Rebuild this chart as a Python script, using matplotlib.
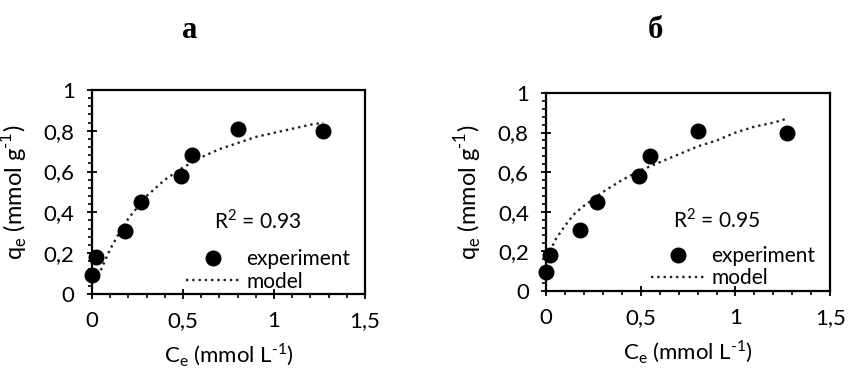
import numpy as np
import matplotlib.pyplot as plt
from matplotlib.lines import Line2D
from matplotlib.ticker import MultipleLocator, FixedFormatter, FixedLocator

plt.rcParams['font.family'] = ['Lato', 'DejaVu Sans']
plt.rcParams['mathtext.fontset'] = 'custom'
plt.rcParams['mathtext.rm'] = 'Lato'

# experimental points (same in both panels)
ce_exp = [0.0, 0.02, 0.18, 0.27, 0.49, 0.55, 0.80, 1.27]
qe_exp = [0.095, 0.18, 0.31, 0.45, 0.58, 0.68, 0.81, 0.80]

# model curves
ce_model = [0.02, 0.05, 0.1, 0.15, 0.2, 0.3, 0.4, 0.5, 0.6, 0.7, 0.8, 0.9, 1.0, 1.1, 1.2, 1.27]
qe_model_a = [0.06, 0.12, 0.22, 0.30, 0.37, 0.48, 0.56, 0.62, 0.67, 0.71, 0.74, 0.77, 0.79, 0.81, 0.83, 0.84]
qe_model_b = [0.20, 0.26, 0.33, 0.39, 0.43, 0.50, 0.56, 0.61, 0.65, 0.69, 0.73, 0.76, 0.80, 0.83, 0.85, 0.87]

panel_titles = ['а', 'б']
r2_labels = ['R$^2$ = 0.93', 'R$^2$ = 0.95']
x_ticks = [0, 0.5, 1, 1.5]
x_ticklabels = ['0', '0,5', '1', '1,5']
y_ticks = [0, 0.2, 0.4, 0.6, 0.8, 1.0]
y_ticklabels = ['0', '0,2', '0,4', '0,6', '0,8', '1']


def draw_panel(ax, model_y, r2, r2_x):
    ax.plot(ce_model, model_y, linestyle=':', color='#222222', linewidth=1.7, zorder=2)
    ax.plot(ce_exp, qe_exp, 'o', color='black', markersize=10.5, zorder=3, clip_on=False)
    ax.set_xlim(0, 1.5)
    ax.set_ylim(0, 1)
    ax.xaxis.set_major_locator(FixedLocator(x_ticks))
    ax.xaxis.set_major_formatter(FixedFormatter(x_ticklabels))
    ax.yaxis.set_major_locator(FixedLocator(y_ticks))
    ax.yaxis.set_major_formatter(FixedFormatter(y_ticklabels))
    ax.xaxis.set_minor_locator(MultipleLocator(0.1))
    ax.yaxis.set_minor_locator(MultipleLocator(0.04))
    ax.tick_params(which='major', direction='inout', length=7, width=1.3, labelsize=16, pad=9)
    ax.tick_params(which='minor', direction='out', length=3, width=1.2)
    for s in ax.spines.values():
        s.set_linewidth(1.6)
    ax.set_xlabel('C$_\\mathregular{e}$ (mmol L$^\\mathregular{\\text{-}1}$)', fontsize=16, labelpad=8)
    ax.set_ylabel('q$_\\mathregular{e}$ (mmol g$^\\mathregular{\\text{-}1}$)', fontsize=17, labelpad=9)
    ax.text(r2_x, 0.36, r2, transform=ax.transData, fontsize=15, va='center')
    handles = [
        Line2D([], [], marker='o', linestyle='none', color='black', markersize=10.5),
        Line2D([], [], linestyle=':', color='#222222', linewidth=1.7),
    ]
    ax.legend(handles, ['experiment', 'model'], loc='lower right', bbox_to_anchor=(1.0, -0.06),
              frameon=False, fontsize=15, handlelength=2.6, handletextpad=0.3,
              labelspacing=0.1, borderaxespad=0.3)


fig = plt.figure(figsize=(8.48, 3.72), dpi=100)
ax1 = fig.add_axes([0.1085, 0.21, 0.322, 0.548])
ax2 = fig.add_axes([0.644, 0.218, 0.335, 0.532])

draw_panel(ax1, qe_model_a, r2_labels[0], 0.67)
draw_panel(ax2, qe_model_b, r2_labels[1], 0.67)

fig.text(190 / 848, 1 - 30 / 372, panel_titles[0], fontsize=22, fontweight='bold',
         family='Liberation Serif', ha='center', va='center')
fig.text(655 / 848, 1 - 30 / 372, panel_titles[1], fontsize=22, fontweight='bold',
         family='Liberation Serif', ha='center', va='center')

fig.savefig('out.png', dpi=100)
